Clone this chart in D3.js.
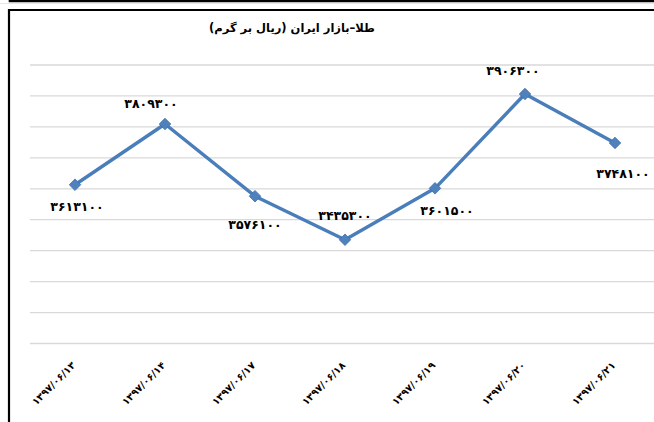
<!DOCTYPE html>
<html>
<head>
<meta charset="utf-8">
<script src="https://cdn.jsdelivr.net/npm/d3@7/dist/d3.min.js"></script>
<style>
  html, body { margin: 0; padding: 0; background: #fff; }
  svg { display: block; }
</style>
</head>
<body>
<svg id="chart" width="654" height="422"></svg>
<script>
// ---- data ----
const title = "طلا–بازار ایران (ریال بر گرم)";
const categories = ["۱۳۹۷/۰۶/۱۳", "۱۳۹۷/۰۶/۱۴", "۱۳۹۷/۰۶/۱۷", "۱۳۹۷/۰۶/۱۸", "۱۳۹۷/۰۶/۱۹", "۱۳۹۷/۰۶/۲۰", "۱۳۹۷/۰۶/۲۱"];
const values = [3613100, 3809300, 3576100, 3435300, 3601500, 3906300, 3748100];
const yDomain = [3100000, 4000000];
const yStep = 100000;

// ---- layout (label placement, not data) ----
const labelOffsets = [[2, 26], [-14, -16], [0, 33], [0, -20], [12, 27], [-12, -19], [8, 35]];

const toFa = n => String(n).replace(/\d/g, d => "۰۱۲۳۴۵۶۷۸۹"[d]);

const svg = d3.select("#chart");
const W = 654, H = 422;
const plot = { left: 30, right: 660, top: 65, bottom: 343.5 };

svg.append("rect").attr("width", W).attr("height", H).attr("fill", "#fff");

// frames
svg.append("path").attr("d", `M10,-5V1H${W + 5}`).attr("fill", "none").attr("stroke", "#000").attr("stroke-width", 2.6);
svg.append("path").attr("d", `M${W + 5},3.6H-5`).attr("fill", "none").attr("stroke", "#ddd").attr("stroke-width", 0.8);
svg.append("path").attr("d", `M9,${H + 5}V10H${W + 5}`).attr("fill", "none").attr("stroke", "#000").attr("stroke-width", 2.2);

const x = d3.scaleBand().domain(categories).range([plot.left, plot.right]).padding(0);
const y = d3.scaleLinear().domain(yDomain).range([plot.bottom, plot.top]);
const cx = d => x(d) + x.bandwidth() / 2;

// gridlines
const ticks = d3.range(yDomain[0], yDomain[1] + 1, yStep);
svg.append("g").selectAll("line").data(ticks).join("line")
  .attr("x1", plot.left).attr("x2", plot.right)
  .attr("y1", d => y(d)).attr("y2", d => y(d))
  .attr("stroke", "#d9d9d9").attr("stroke-width", 1.3);

// title
svg.append("text")
  .attr("x", 292).attr("y", 32)
  .attr("text-anchor", "middle")
  .attr("direction", "rtl")
  .attr("font-family", "DejaVu Sans, sans-serif")
  .attr("font-weight", "bold")
  .attr("font-size", 11.5)
  .attr("fill", "#000")
  .text(title);

// line
const pts = categories.map((c, i) => ({ c, v: values[i], i }));
const line = d3.line().x(d => cx(d.c)).y(d => y(d.v));
svg.append("path").datum(pts)
  .attr("d", line)
  .attr("fill", "none")
  .attr("stroke", "#4A7EBB")
  .attr("stroke-width", 3.4)
  .attr("stroke-linejoin", "round");

// markers
svg.append("g").selectAll("path").data(pts).join("path")
  .attr("d", d3.symbol(d3.symbolDiamond2, 85))
  .attr("transform", d => `translate(${cx(d.c)},${y(d.v)})`)
  .attr("fill", "#4F81BD")
  .attr("stroke", "#3f70aa")
  .attr("stroke-width", 0.8);

// data labels
svg.append("g").selectAll("text").data(pts).join("text")
  .attr("x", d => cx(d.c) + labelOffsets[d.i][0])
  .attr("y", d => y(d.v) + labelOffsets[d.i][1])
  .attr("text-anchor", "middle")
  .attr("font-family", "DejaVu Sans, sans-serif")
  .attr("font-weight", "bold")
  .attr("font-size", 12.5)
  .attr("fill", "#000")
  .text(d => toFa(d.v));

// x axis labels
svg.append("g").selectAll("text").data(categories).join("text")
  .attr("transform", d => `translate(${cx(d) + 1},${366}) rotate(-45)`)
  .attr("text-anchor", "end")
  .attr("font-family", "DejaVu Sans, sans-serif")
  .attr("font-weight", "bold")
  .attr("font-size", 10)
  .attr("fill", "#000")
  .text(d => d);
</script>
</body>
</html>
